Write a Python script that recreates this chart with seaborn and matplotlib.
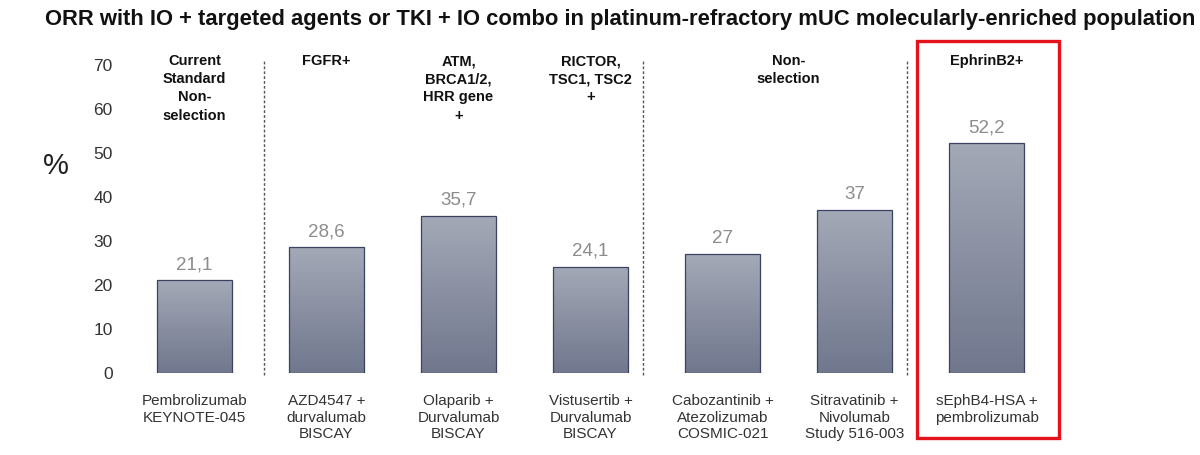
import numpy as np
import pandas as pd
import seaborn as sns
import matplotlib.pyplot as plt
from matplotlib.patches import Rectangle
from matplotlib.colors import LinearSegmentedColormap

# data
treatments = [
    "Pembrolizumab\nKEYNOTE-045",
    "AZD4547 +\ndurvalumab\nBISCAY",
    "Olaparib +\nDurvalumab\nBISCAY",
    "Vistusertib +\nDurvalumab\nBISCAY",
    "Cabozantinib +\nAtezolizumab\nCOSMIC-021",
    "Sitravatinib +\nNivolumab\nStudy 516-003",
    "sEphB4-HSA +\npembrolizumab",
]
orr = [21.1, 28.6, 35.7, 24.1, 27, 37, 52.2]
value_labels = ["21,1", "28,6", "35,7", "24,1", "27", "37", "52,2"]

group_headers = [
    "Current\nStandard\nNon-\nselection",
    "FGFR+",
    "ATM,\nBRCA1/2,\nHRR gene\n+",
    "RICTOR,\nTSC1, TSC2\n+",
    "Non-\nselection",
    "EphrinB2+",
]
group_members = [[0], [1], [2], [3], [4, 5], [6]]

title = ("ORR with IO + targeted agents or TKI + IO combo in "
         "platinum-refractory mUC molecularly-enriched population")

# layout bits
sep_x = [0.53, 3.4, 5.4]
highlight = 6

sns.set_theme(style="white")
plt.rcParams['font.family'] = ['Liberation Sans', 'DejaVu Sans']

fig = plt.figure(figsize=(12, 4.55), dpi=100)
ax = fig.add_axes([121 / 1200, 82 / 455, (1118.5 - 121) / 1200, 308 / 455])

df = pd.DataFrame({"treatment": treatments, "orr": orr})

sns.barplot(
    data=df,
    x="treatment",
    y="orr",
    order=treatments,
    width=0.568,
    color="#8a90a0",
    edgecolor="#3c4262",
    linewidth=0.9,
    ax=ax
)

# vertical gradient inside the bars
cmap = LinearSegmentedColormap.from_list("bar", ["#71778d", "#a3a9b6"])
grad = np.linspace(0, 1, 256).reshape(-1, 1)
for p in ax.patches:
    x0, y0 = p.get_xy()
    w, h = p.get_width(), p.get_height()
    im = ax.imshow(grad, extent=[x0, x0 + w, y0, y0 + h], origin="lower",
                   aspect="auto", cmap=cmap, zorder=2)
    im.set_clip_path(p)
    p.set_facecolor("none")
    p.set_zorder(3)

ax.set_xlim(-0.557, 7.0)
ax.set_ylim(0, 70)
ax.set_aspect("auto")

for i, (v, lbl) in enumerate(zip(orr, value_labels)):
    ax.text(i, v + 2.5, lbl, ha="center", va="baseline",
            fontsize=13.5, color="#8c8c8c")

for h, members in zip(group_headers, group_members):
    ax.text(np.mean(members), 72.5, h, ha="center", va="top",
            fontsize=10.5, fontweight="bold", color="#111111",
            linespacing=1.38, clip_on=False)

ax.vlines(sep_x, -0.4, 71.1, colors="#555555", linestyles=(0, (2, 1.5)),
          linewidth=1, clip_on=False)

ax.add_patch(Rectangle((highlight - 0.526, -14.8), 1.076, 90.3,
                       fill=False, edgecolor="#e3121b", linewidth=2.4,
                       clip_on=False, zorder=5))

sns.despine(ax=ax, left=True, bottom=True)
ax.set_xlabel("")
ax.set_ylabel("")
ax.set_yticks(range(0, 80, 10))
ax.tick_params(axis="y", length=0, pad=6, labelsize=12.5, labelcolor="#333333")
ax.tick_params(axis="x", length=0, pad=15, labelsize=11, labelcolor="#333333")
for t in ax.get_xticklabels():
    t.set_linespacing(1.25)

fig.text(56 / 1200, 1 - 166 / 455, "%", fontsize=21, ha="center",
         va="center", color="#222222")
fig.text(45 / 1200, 1 - 25 / 455, title, fontsize=15.8, fontweight="bold",
         ha="left", va="baseline", color="#111111")

fig.savefig("out.png", dpi=100)
